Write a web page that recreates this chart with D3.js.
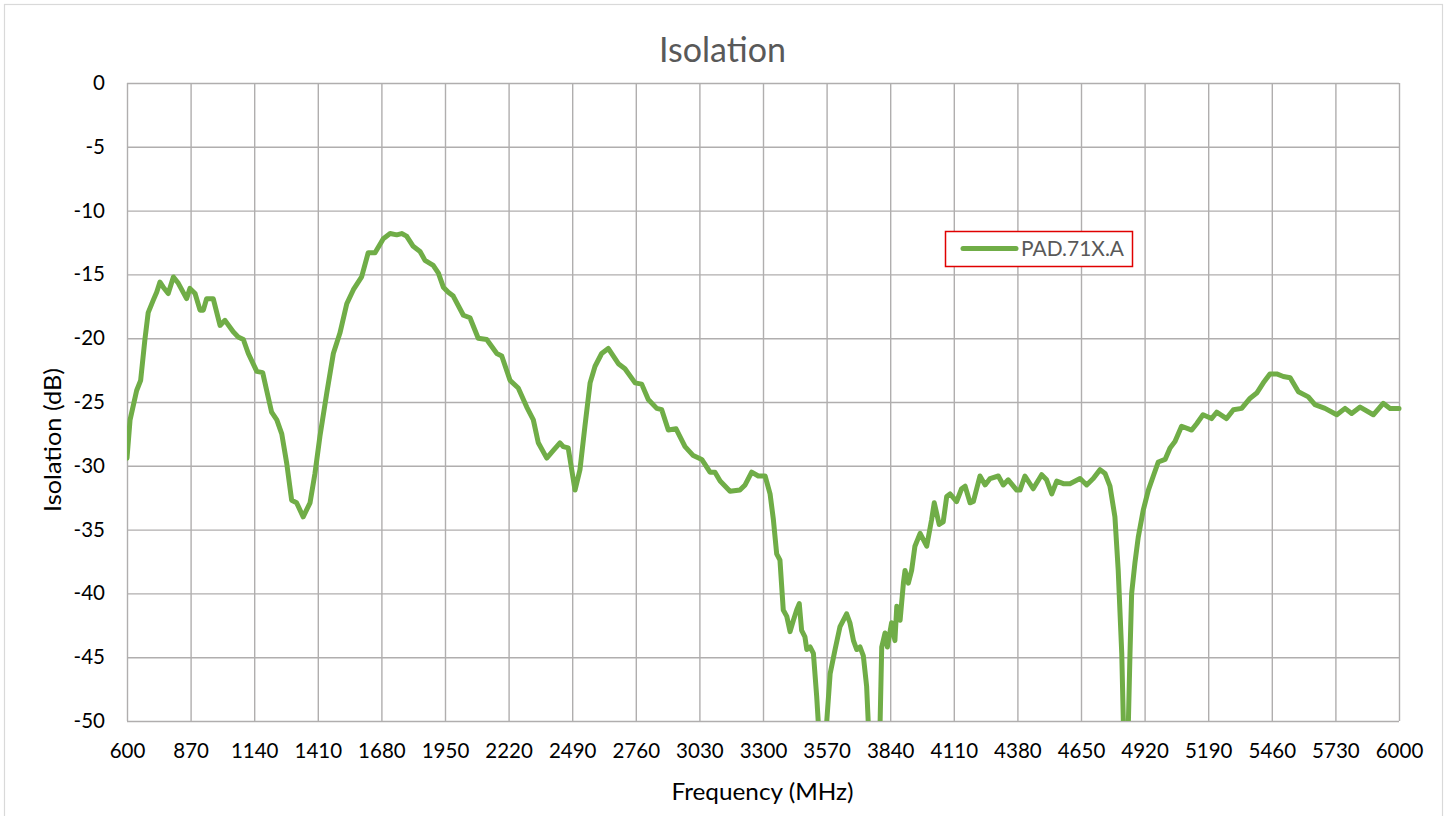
<!DOCTYPE html>
<html>
<head>
<meta charset="utf-8">
<script src="https://cdn.jsdelivr.net/npm/d3@7"></script>
<style>
  html, body { margin: 0; padding: 0; background: #fff; }
  svg { display: block; font-family: Lato, "Open Sans", sans-serif; }
</style>
</head>
<body>
<svg id="chart" width="1450" height="816"></svg>
<script>
const chartTitle = "Isolation";
const xTitle = "Frequency (MHz)";
const yTitle = "Isolation (dB)";
const seriesName = "PAD.71X.A";

const xTicks = [600, 870, 1140, 1410, 1680, 1950, 2220, 2490, 2760, 3030, 3300, 3570, 3840, 4110, 4380, 4650, 4920, 5190, 5460, 5730, 6000];
const yTicks = [0, -5, -10, -15, -20, -25, -30, -35, -40, -45, -50];

const freq = [600,613,641,658,676,690,712,726,740,754,775,797,818,853,867,889,910,924,938,966,995,1016,1051,1072,1094,1115,1151,1176,1193,1214,1236,1257,1278,1299,1320,1348,1377,1398,1419,1448,1476,1504,1533,1561,1596,1624,1653,1688,1717,1745,1766,1787,1815,1844,1865,1900,1922,1943,1964,1985,2028,2056,2091,2127,2170,2191,2226,2261,2297,2325,2346,2382,2410,2438,2452,2473,2502,2523,2544,2566,2587,2615,2643,2686,2714,2757,2785,2813,2849,2870,2898,2931,2969,3004,3040,3075,3096,3118,3160,3202,3224,3252,3280,3309,3330,3344,3358,3372,3386,3401,3415,3429,3443,3454,3464,3478,3486,3500,3514,3528,3535,3552,3570,3585,3606,3627,3655,3669,3684,3698,3712,3726,3740,3747,3772,3797,3804,3818,3828,3846,3860,3868,3882,3896,3903,3917,3931,3945,3967,3995,4016,4027,4048,4065,4080,4094,4122,4143,4158,4179,4193,4221,4243,4264,4299,4320,4341,4377,4391,4412,4447,4483,4504,4526,4547,4575,4603,4646,4674,4702,4731,4752,4773,4794,4808,4823,4830,4840,4851,4858,4865,4879,4893,4914,4936,4957,4978,5007,5028,5049,5077,5120,5141,5168,5204,5226,5268,5297,5332,5368,5396,5424,5452,5481,5509,5538,5573,5615,5643,5686,5736,5771,5799,5835,5891,5933,5962,6000];

const isolation = [-29.4,-26.4,-24.1,-23.3,-20.1,-18.0,-17.0,-16.4,-15.6,-16.0,-16.5,-15.2,-15.7,-16.9,-16.1,-16.5,-17.8,-17.8,-16.9,-16.9,-19.0,-18.6,-19.5,-19.9,-20.1,-21.2,-22.6,-22.7,-24.1,-25.8,-26.4,-27.5,-29.8,-32.7,-32.9,-34.0,-32.9,-30.6,-27.7,-24.3,-21.2,-19.6,-17.3,-16.2,-15.2,-13.3,-13.3,-12.2,-11.8,-11.9,-11.8,-12.0,-12.8,-13.2,-13.9,-14.3,-14.9,-16.0,-16.4,-16.7,-18.2,-18.4,-20.0,-20.1,-21.2,-21.4,-23.3,-23.9,-25.4,-26.4,-28.2,-29.4,-28.8,-28.2,-28.5,-28.6,-31.9,-30.3,-26.9,-23.5,-22.2,-21.2,-20.8,-22.0,-22.4,-23.5,-23.6,-24.8,-25.5,-25.6,-27.2,-27.1,-28.5,-29.2,-29.5,-30.5,-30.5,-31.2,-32.0,-31.9,-31.5,-30.5,-30.8,-30.8,-32.2,-34.2,-36.9,-37.4,-41.3,-41.8,-43.0,-42.1,-41.3,-40.8,-42.9,-43.4,-44.4,-44.2,-44.7,-48.1,-50.2,-54.0,-50.2,-46.3,-44.4,-42.6,-41.6,-42.3,-43.7,-44.4,-44.2,-44.9,-47.3,-50.2,-55.0,-50.2,-44.2,-43.1,-44.2,-42.3,-43.7,-41.0,-42.1,-39.2,-38.2,-39.2,-38.2,-36.3,-35.3,-36.3,-34.2,-32.9,-34.6,-34.4,-32.4,-32.2,-32.8,-31.8,-31.6,-32.9,-32.8,-30.8,-31.5,-31.0,-30.8,-31.5,-31.1,-31.9,-31.9,-30.8,-31.8,-30.7,-31.1,-32.2,-31.2,-31.4,-31.4,-31.0,-31.5,-31.0,-30.3,-30.6,-31.6,-34.0,-38.2,-44.7,-50.2,-53.0,-50.2,-44.7,-40.0,-37.6,-35.6,-33.5,-31.9,-30.8,-29.7,-29.5,-28.6,-28.1,-26.9,-27.2,-26.7,-26.0,-26.3,-25.8,-26.3,-25.6,-25.5,-24.7,-24.3,-23.5,-22.8,-22.8,-23.0,-23.1,-24.2,-24.6,-25.2,-25.5,-26.0,-25.5,-25.9,-25.4,-26.0,-25.1,-25.5,-25.5];

const svg = d3.select("#chart");
const W = 1450, H = 816;
const plot = { left: 127, right: 1399, top: 83, bottom: 721 };

// outer chart border
svg.append("rect")
  .attr("x", 4.5).attr("y", 4.5)
  .attr("width", 1438).attr("height", H)
  .attr("fill", "#fff").attr("stroke", "#d9d9d9").attr("stroke-width", 1.2);

const x = d3.scaleLinear().domain([600, 6000]).range([plot.left, plot.right]);
const y = d3.scaleLinear().domain([-50, 0]).range([plot.bottom, plot.top]);

const gridColor = "#b0aeae";

// vertical grid
svg.append("g")
  .attr("transform", `translate(0,${plot.bottom})`)
  .call(d3.axisBottom(x).tickValues(xTicks).tickSize(-(plot.bottom - plot.top)).tickFormat(""))
  .call(g => g.select(".domain").remove())
  .call(g => g.selectAll("line").attr("stroke", gridColor).attr("stroke-width", 1.4));

// horizontal grid
svg.append("g")
  .attr("transform", `translate(${plot.left},0)`)
  .call(d3.axisLeft(y).tickValues(yTicks).tickSize(-(plot.right - plot.left)).tickFormat(""))
  .call(g => g.select(".domain").remove())
  .call(g => g.selectAll("line").attr("stroke", gridColor).attr("stroke-width", 1.4));

// x tick labels
const xAxis = svg.append("g")
  .attr("transform", `translate(0,${plot.bottom})`)
  .call(d3.axisBottom(x).tickValues(xTicks).tickSize(0).tickPadding(22).tickFormat(d3.format("d")));
xAxis.select(".domain").remove();
xAxis.selectAll("text").attr("font-family", "Lato, sans-serif").attr("font-size", 20.5).attr("fill", "#000");

// y tick labels
const yAxis = svg.append("g")
  .attr("transform", `translate(${plot.left},0)`)
  .call(d3.axisLeft(y).tickValues(yTicks).tickSize(0).tickPadding(22).tickFormat(d => d3.format("d")(d).replace("−", "-")));
yAxis.select(".domain").remove();
yAxis.selectAll("text").attr("font-family", "Lato, sans-serif").attr("font-size", 20.5).attr("fill", "#000");

// clip
svg.append("clipPath").attr("id", "plotclip")
  .append("rect")
  .attr("x", plot.left).attr("y", plot.top - 5)
  .attr("width", plot.right - plot.left + 5).attr("height", plot.bottom - plot.top + 5);

const data = freq.map((f, i) => ({ f, v: isolation[i] }));
const line = d3.line().x(d => x(d.f)).y(d => y(d.v)).curve(d3.curveLinear);

svg.append("path")
  .datum(data)
  .attr("clip-path", "url(#plotclip)")
  .attr("d", line)
  .attr("fill", "none")
  .attr("stroke", "#70ad47")
  .attr("stroke-width", 5)
  .attr("stroke-linejoin", "round")
  .attr("stroke-linecap", "round");

// title
svg.append("text")
  .attr("x", 722.5).attr("y", 62)
  .attr("text-anchor", "middle")
  .attr("font-size", 34)
  .attr("fill", "#595959")
  .text(chartTitle);

// axis titles
svg.append("text")
  .attr("x", 762.5).attr("y", 800)
  .attr("text-anchor", "middle")
  .attr("font-size", 22.5)
  .attr("textLength", 182).attr("lengthAdjust", "spacingAndGlyphs")
  .attr("fill", "#000")
  .text(xTitle);

svg.append("text")
  .attr("transform", "translate(61,440) rotate(-90)")
  .attr("text-anchor", "middle")
  .attr("font-size", 22.5)
  .attr("textLength", 144).attr("lengthAdjust", "spacingAndGlyphs")
  .attr("fill", "#000")
  .text(yTitle);

// legend
const lg = svg.append("g");
lg.append("rect")
  .attr("x", 945.5).attr("y", 231.5).attr("width", 187).attr("height", 35)
  .attr("fill", "#fff").attr("stroke", "#e00000").attr("stroke-width", 1.5);
lg.append("line")
  .attr("x1", 963).attr("x2", 1016).attr("y1", 248.5).attr("y2", 248.5)
  .attr("stroke", "#70ad47").attr("stroke-width", 5).attr("stroke-linecap", "round");
lg.append("text")
  .attr("x", 1021).attr("y", 256)
  .attr("font-size", 20.5)
  .attr("textLength", 103).attr("lengthAdjust", "spacingAndGlyphs")
  .attr("fill", "#595959")
  .text(seriesName);
</script>
</body>
</html>
